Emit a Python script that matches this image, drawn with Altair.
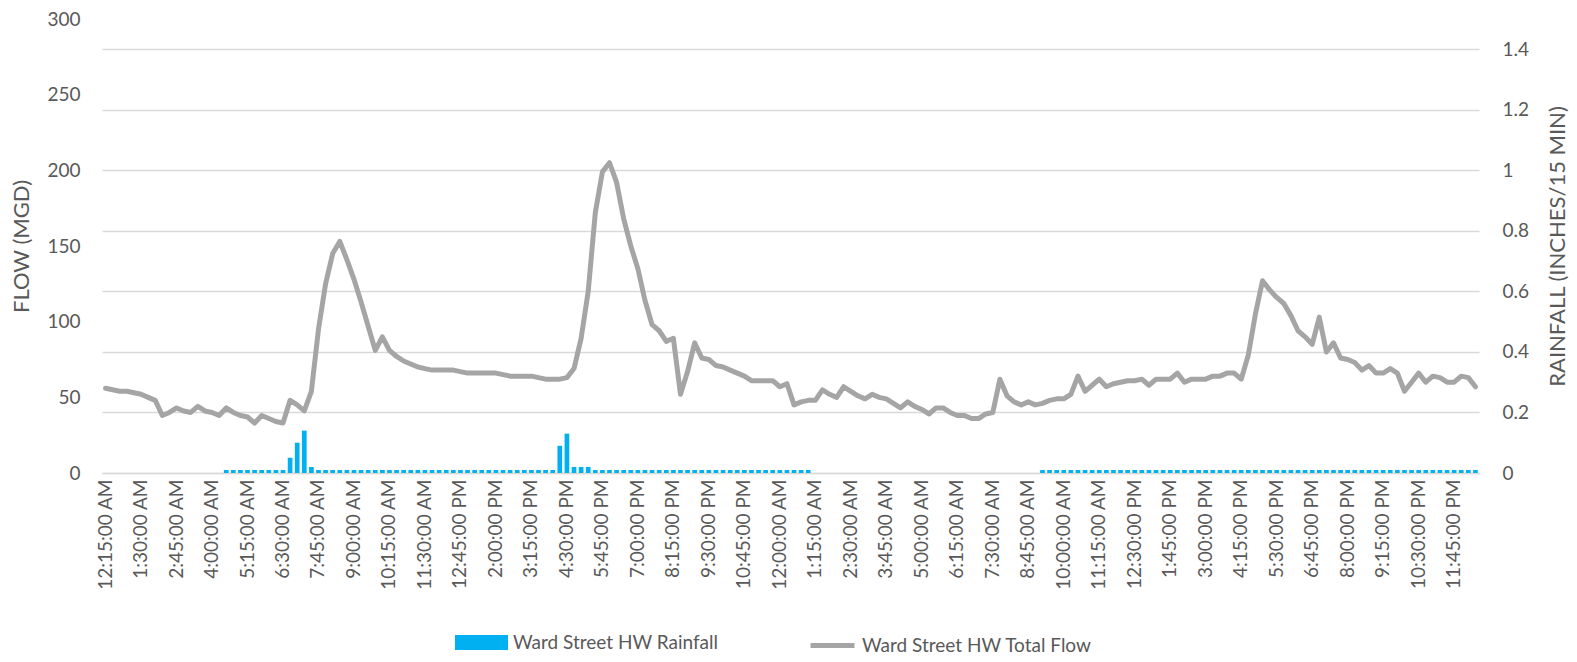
import altair as alt
import pandas as pd

# Flow (MGD), one value per 15-minute interval starting 12:15:00 AM
FLOW = [
    56, 55, 54, 54, 53, 52, 50, 48, 38, 40,
    43, 41, 40, 44, 41, 40, 38, 43, 40, 38,
    37, 33, 38, 36, 34, 33, 48, 45, 41, 54,
    95, 125, 145, 153, 141, 128, 113, 97, 81, 90,
    81, 77, 74, 72, 70, 69, 68, 68, 68, 68,
    67, 66, 66, 66, 66, 66, 65, 64, 64, 64,
    64, 63, 62, 62, 62, 63, 69, 89, 120, 172,
    199, 205, 192, 168, 150, 135, 114, 98, 94, 87,
    89, 52, 67, 86, 76, 75, 71, 70, 68, 66,
    64, 61, 61, 61, 61, 57, 59, 45, 47, 48,
    48, 55, 52, 50, 57, 54, 51, 49, 52, 50,
    49, 46, 43, 47, 44, 42, 39, 43, 43, 40,
    38, 38, 36, 36, 39, 40, 62, 51, 47, 45,
    47, 45, 46, 48, 49, 49, 52, 64, 54, 58,
    62, 57, 59, 60, 61, 61, 62, 58, 62, 62,
    62, 66, 60, 62, 62, 62, 64, 64, 66, 66,
    62, 78, 105, 127, 121, 116, 112, 104, 94, 90,
    85, 103, 80, 86, 76, 75, 73, 68, 71, 66,
    66, 69, 66, 54, 60, 66, 60, 64, 63, 60,
    60, 64, 63, 57,
]

# Rainfall (inches / 15 min)
RAIN = [
    0, 0, 0, 0, 0, 0, 0, 0, 0, 0,
    0, 0, 0, 0, 0, 0, 0, .01, .01, .01,
    .01, .01, .01, .01, .01, .01, .05, .10, .14, .02,
    .01, .01, .01, .01, .01, .01, .01, .01, .01, .01,
    .01, .01, .01, .01, .01, .01, .01, .01, .01, .01,
    .01, .01, .01, .01, .01, .01, .01, .01, .01, .01,
    .01, .01, .01, .01, .09, .13, .02, .02, .02, .01,
    .01, .01, .01, .01, .01, .01, .01, .01, .01, .01,
    .01, .01, .01, .01, .01, .01, .01, .01, .01, .01,
    .01, .01, .01, .01, .01, .01, .01, .01, .01, .01,
    0, 0, 0, 0, 0, 0, 0, 0, 0, 0,
    0, 0, 0, 0, 0, 0, 0, 0, 0, 0,
    0, 0, 0, 0, 0, 0, 0, 0, 0, 0,
    0, 0, .01, .01, .01, .01, .01, .01, .01, .01,
    .01, .01, .01, .01, .01, .01, .01, .01, .01, .01,
    .01, .01, .01, .01, .01, .01, .01, .01, .01, .01,
    .01, .01, .01, .01, .01, .01, .01, .01, .01, .01,
    .01, .01, .01, .01, .01, .01, .01, .01, .01, .01,
    .01, .01, .01, .01, .01, .01, .01, .01, .01, .01,
    .01, .01, .01, .01,
]

FLOW_TICKS = [0, 50, 100, 150, 200, 250, 300]
RAIN_TICKS = [0, 0.2, 0.4, 0.6, 0.8, 1.0, 1.2, 1.4]
RAIN_NAME = "Ward Street HW Rainfall"
FLOW_NAME = "Ward Street HW Total Flow"


def time_key(i):
    minutes = 15 + 15 * i
    day = minutes // 1440
    m = minutes % 1440
    h, mm = divmod(m, 60)
    ap = "AM" if h < 12 else "PM"
    h12 = h % 12 or 12
    return f"{day}|{h12}:{mm:02d}:00 {ap}"


TS = [time_key(i) for i in range(len(FLOW))]
TICK_KEYS = TS[::5]

df = pd.DataFrame({"ts": TS, "flow": FLOW, "rain": RAIN,
                   "rs": RAIN_NAME, "fs": FLOW_NAME})

FONT = "Lato"
TXT = "#595959"

x = alt.X(
    "ts:N", sort=None, title=None,
    scale=alt.Scale(paddingInner=0.34, paddingOuter=0.17),
    axis=alt.Axis(values=TICK_KEYS, labelExpr="split(datum.value, '|')[1]",
                  labelAngle=270, labelFontSize=19, labelColor=TXT, labelFont=FONT,
                  ticks=False, domainColor="#D9D9D9", domainWidth=1.5,
                  labelPadding=6, grid=False),
)

bars = alt.Chart(df).mark_bar().encode(
    x=x,
    y=alt.Y("rain:Q", scale=alt.Scale(domain=[0, 1.5], nice=False),
            axis=alt.Axis(orient="right", values=RAIN_TICKS, format=".1~f",
                          grid=True, gridColor="#D9D9D9", gridWidth=1.5,
                          ticks=False, domain=False, labelFontSize=19,
                          labelColor=TXT, labelFont=FONT, labelPadding=23,
                          title="RAINFALL (INCHES/15 MIN)", titleFontSize=22,
                          titleFont=FONT, titleColor=TXT, titleFontWeight="normal",
                          titleAngle=270, titleBaseline="top", titlePadding=19)),
    color=alt.Color("rs:N", scale=alt.Scale(domain=[RAIN_NAME], range=["#00B0F0"]),
                    legend=alt.Legend(orient="none", legendX=353, legendY=597,
                                      title=None, padding=0, labelLimit=500,
                                      symbolType="M-1,-0.283L1,-0.283L1,0.283L-1,0.283Z",
                                      symbolSize=2809, symbolStrokeWidth=0,
                                      labelFontSize=19, labelFont=FONT,
                                      labelColor=TXT, labelOffset=5)),
)

line = alt.Chart(df).mark_line(strokeWidth=5, strokeJoin="round", strokeCap="round").encode(
    x=x,
    y=alt.Y("flow:Q", scale=alt.Scale(domain=[0, 300], nice=False),
            axis=alt.Axis(orient="left", values=FLOW_TICKS, format="d", grid=False,
                          ticks=False, domain=False, labelFontSize=19,
                          labelColor=TXT, labelFont=FONT, labelPadding=22,
                          title="FLOW (MGD)", titleFontSize=22, titleFont=FONT,
                          titleColor=TXT, titleFontWeight="normal", titlePadding=13)),
    stroke=alt.Stroke("fs:N", scale=alt.Scale(domain=[FLOW_NAME], range=["#A5A5A5"]),
                      legend=alt.Legend(orient="none", legendX=706, legendY=602,
                                        title=None, padding=0, labelLimit=500,
                                        symbolType="stroke",
                                        symbolSize=1936, symbolStrokeWidth=5,
                                        labelFontSize=19, labelFont=FONT,
                                        labelColor=TXT, labelOffset=5)),
)

chart = alt.layer(bars, line).resolve_scale(y="independent").properties(
    width=1377, height=454,
    autosize=alt.AutoSizeParams(type="none"),
    padding={"left": 94, "top": 11, "right": 90, "bottom": 181},
).configure_view(stroke=None)

chart.save("out.html", embed_options={"renderer": "svg", "actions": False})
